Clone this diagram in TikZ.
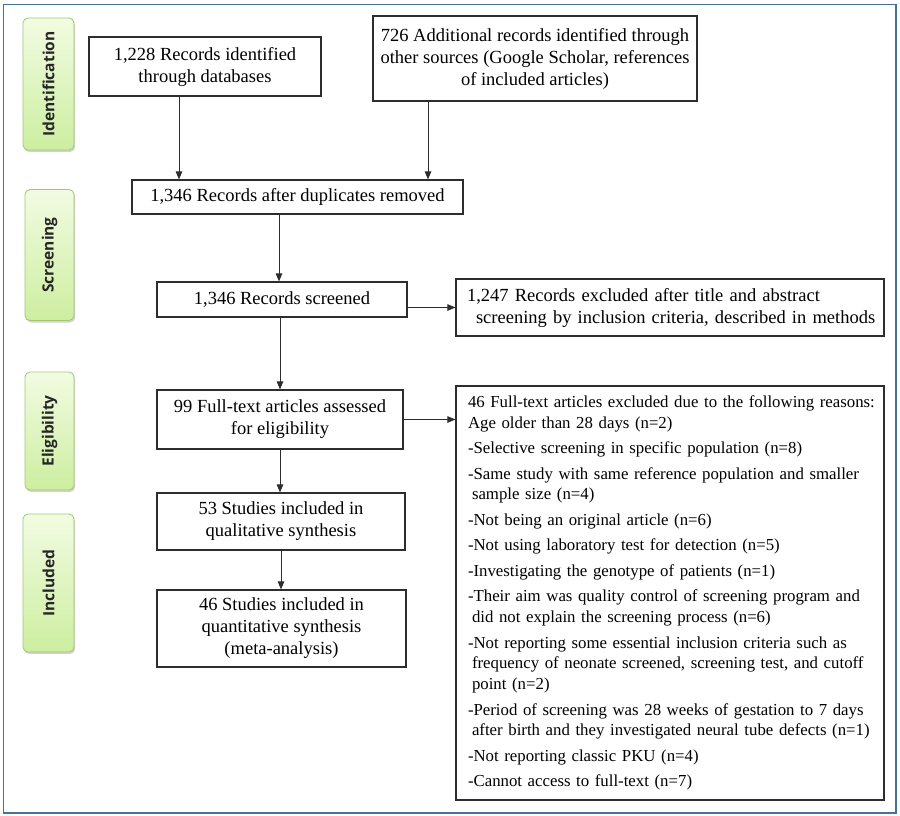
\documentclass[tikz,border=0pt]{standalone}
\usepackage{fontspec}
\setmainfont{Liberation Serif}
\newfontfamily\phasefont{Open Sans}
\usetikzlibrary{arrows.meta,shadows}
\definecolor{framec}{RGB}{70,115,145}
\definecolor{boxline}{RGB}{45,45,45}
\definecolor{phasetop}{RGB}{242,251,226}
\definecolor{phasebot}{RGB}{205,238,160}
\definecolor{phaseline}{RGB}{160,200,110}
% one reason of the list, later lines slightly indented
\newcommand{\reason}[1]{\par\hangindent=4pt\hangafter=1 #1}
\begin{document}
\begin{tikzpicture}[x=1pt,y=-1pt,
  box/.style={draw=boxline, line width=1.1pt, align=center, inner sep=0pt, font=\fontsize{18.5}{22}\selectfont},
  phase/.style={draw=phaseline, line width=0.8pt, rounded corners=5pt, top color=phasetop, bottom color=phasebot,
    drop shadow={shadow xshift=1.2pt, shadow yshift=-2pt, opacity=0.35},
    font=\phasefont\bfseries\fontsize{15.5}{18}\selectfont, text=black!85},
  arr/.style={draw=boxline, line width=0.9pt, -{Triangle[length=8pt,width=6.5pt]}}]
\useasboundingbox (0,0) rectangle (900,816);
\draw [framec, line width=1.5pt] (3.5,4.5) rectangle (896,813);

% phases
\node[phase, minimum width=51pt, minimum height=132pt] (pid) at (48.5,84) {\rotatebox{90}{Identification}};
\node[phase, minimum width=49pt, minimum height=131pt] (pscr) at (49.5,255) {\rotatebox{90}{Screening}};
\node[phase, minimum width=49pt, minimum height=118pt] (pel) at (49.5,431) {\rotatebox{90}{Eligibility}};
\node[phase, minimum width=51pt, minimum height=138pt] (pinc) at (48.5,583) {\rotatebox{90}{Included}};

% boxes
\node[box, minimum width=232pt, minimum height=59pt] (db) at (205,66.5) {1,228 Records identified\\through databases};
\node[box, minimum width=324pt, minimum height=85pt] (other) at (535,58.5) {726 Additional records identified through\\other sources (Google Scholar, references\\of included articles)};
\node[box, minimum width=331pt, minimum height=34pt] (dup) at (297.5,197) {1,346 Records after duplicates removed};
\node[box, minimum width=250pt, minimum height=35pt] (scr) at (282,299.5) {1,346 Records screened};
\node[box, minimum width=246pt, minimum height=59pt] (elig) at (280,419.5) {99 Full-text articles assessed\\for eligibility};
\node[box, minimum width=248pt, minimum height=57pt] (qual) at (281,521.5) {53 Studies included in\\qualitative synthesis};
\node[box, minimum width=249pt, minimum height=77pt] (quant) at (281.5,628.5) {46 Studies included in\\quantitative synthesis\\(meta-analysis)};

\node[box, align=left, text width=406pt, inner xsep=11pt, minimum height=57pt] (ex1) at (670,307.5)
  {\mbox{1,247 Records excluded after title and abstract}\newline
   \hspace*{9pt}\mbox{screening by inclusion criteria, described in methods}};
\node[box, align=left, text width=404pt, inner xsep=12pt, minimum height=414pt,
  font=\fontsize{16.8}{20.7}\selectfont] (ex2) at (670,593)
  {\setlength{\parskip}{4.8pt}%
  \mbox{46 Full-text articles excluded due to the following reasons:}\newline \mbox{Age older than 28 days (n=2)}
  \reason{\mbox{-Selective screening in specific population (n=8)}}
  \reason{\mbox{-Same study with same reference population and smaller}\newline \mbox{sample size (n=4)}}
  \reason{\mbox{-Not being an original article (n=6)}}
  \reason{\mbox{-Not using laboratory test for detection (n=5)}}
  \reason{\mbox{-Investigating the genotype of patients (n=1)}}
  \reason{\mbox{-Their aim was quality control of screening program and}\newline \mbox{did not explain the screening process (n=6)}}
  \reason{\mbox{-Not reporting some essential inclusion criteria such as}\newline \mbox{frequency of neonate screened, screening test, and cutoff}\newline \mbox{point (n=2)}}
  \reason{\mbox{-Period of screening was 28 weeks of gestation to 7 days}\newline \mbox{after birth and they investigated neural tube defects (n=1)}}
  \reason{\mbox{-Not reporting classic PKU (n=4)}}
  \reason{\mbox{-Cannot access to full-text (n=7)}}};

% arrows
\draw[arr] ([xshift=-26pt]db.south) -- ([xshift=-26pt]db.south |- dup.north);
\draw[arr] ([xshift=-107pt]other.south) -- ([xshift=-107pt]other.south |- dup.north);
\draw[arr] ([xshift=-3pt]scr.north |- dup.south) -- ([xshift=-3pt]scr.north);
\draw[arr] (ex1.west -| scr.east) -- (ex1.west);
\draw[arr] (elig.north |- scr.south) -- (elig.north);
\draw[arr] (elig.east) -- (elig.east -| ex2.west);
\draw[arr] (elig.south) -- (elig.south |- qual.north);
\draw[arr] (qual.south) -- (qual.south |- quant.north);
\end{tikzpicture}
\end{document}
